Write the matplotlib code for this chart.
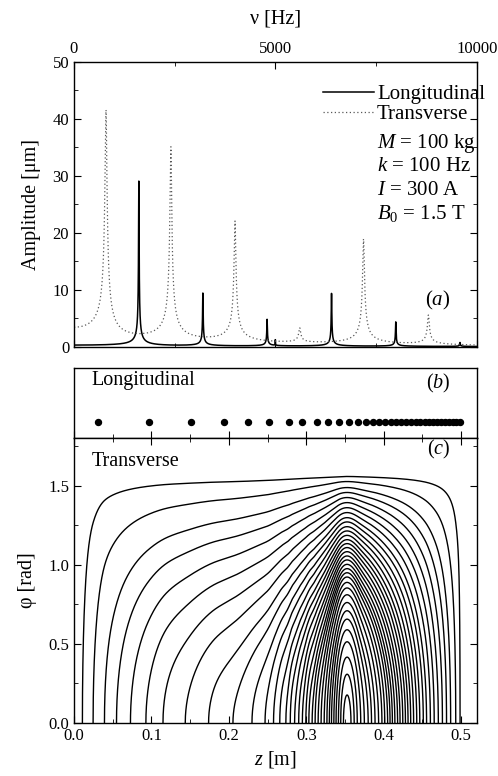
import matplotlib

matplotlib.use("Agg")

import matplotlib.pyplot as plt  # noqa: E402
import numpy as np  # noqa: E402
from matplotlib.ticker import MultipleLocator  # noqa: E402

# (a) resonance peaks: centre [Hz], height [um], width [Hz]
long_freq_hz = [1610, 3200, 4795, 5000, 6395, 7990, 9585]
long_amp_um = [29.0, 9.3, 4.7, 1.0, 9.3, 4.3, 0.7]
long_width_hz = [12, 12, 12, 3, 12, 12, 12]

trans_freq_hz = [795, 2405, 3998, 5605, 7190, 8800]
trans_amp_um = [40.5, 34.3, 21.4, 2.6, 18.6, 5.2]
trans_width_hz = [48, 42, 42, 42, 42, 42]

param_lines = ["$M$ = 100 kg", "$k$ = 100 Hz", "$I$ = 300 A", "$B_0$ = 1.5 T"]

# (b) longitudinal mode positions along z [m]
long_modes_z = [0.0306, 0.0973, 0.1512, 0.1938, 0.2252, 0.2523, 0.2774, 0.2950,
                0.3136, 0.3286, 0.3424, 0.3553, 0.3665, 0.3766, 0.3857, 0.3941,
                0.4018, 0.4089, 0.4160, 0.4225, 0.4289, 0.4354, 0.4412, 0.4470,
                0.4528, 0.4587, 0.4638, 0.4690, 0.4742, 0.4793, 0.4845, 0.4890,
                0.4935, 0.4978]

# (c) transverse curves, outermost first: arch top [rad], left / right foot [m]
arch_tops = [1.557, 1.525, 1.487, 1.456, 1.424, 1.392, 1.360, 1.329, 1.297,
             1.270, 1.240, 1.213, 1.185, 1.158, 1.133, 1.108, 1.082, 1.055,
             1.030, 1.002, 0.975, 0.949, 0.922, 0.888, 0.853, 0.810, 0.761,
             0.709, 0.656, 0.589, 0.513, 0.416, 0.308, 0.177]
left_feet = [0.011, 0.025, 0.040, 0.056, 0.0745, 0.095, 0.118, 0.148, 0.179,
             0.211, 0.234, 0.250, 0.260, 0.268, 0.276, 0.281, 0.287, 0.292,
             0.297, 0.301, 0.305, 0.310, 0.313, 0.317, 0.321, 0.325, 0.328,
             0.331, 0.334, 0.337, 0.340, 0.342, 0.344, 0.348]
right_feet = [0.4985, 0.4928, 0.4861, 0.4807, 0.4753, 0.4699, 0.4645, 0.4595,
              0.4545, 0.4502, 0.4456, 0.4416, 0.4375, 0.4337, 0.4302, 0.4268,
              0.4233, 0.4197, 0.4165, 0.4129, 0.4097, 0.4066, 0.4034, 0.3997,
              0.3960, 0.3916, 0.3870, 0.3824, 0.3780, 0.3729, 0.3679, 0.3645,
              0.3605, 0.3570]
arch_centre_z = 0.3525

plt.rcParams["font.family"] = "Liberation Serif"
plt.rcParams["mathtext.fontset"] = "custom"
plt.rcParams["mathtext.rm"] = "Liberation Serif"
plt.rcParams["mathtext.it"] = "Liberation Serif:italic"
plt.rcParams["axes.linewidth"] = 1.0
plt.rcParams["xtick.direction"] = "in"
plt.rcParams["ytick.direction"] = "in"
plt.rcParams["xtick.major.size"] = 5
plt.rcParams["ytick.major.size"] = 5
plt.rcParams["xtick.minor.size"] = 3
plt.rcParams["ytick.minor.size"] = 3
plt.rcParams["xtick.labelsize"] = 12
plt.rcParams["ytick.labelsize"] = 12


def spectrum(freq, centres, amps, widths):
    total = np.zeros_like(freq)
    for f0, a, w in zip(centres, amps, widths):
        total += a * f0 * w / np.sqrt((f0 ** 2 - freq ** 2) ** 2 + (freq * w) ** 2)
    return total


def pchip(xk, yk, x):
    """Monotone cubic (Fritsch-Carlson) through the knots."""
    xk, yk = np.asarray(xk, float), np.asarray(yk, float)
    x = np.clip(x, xk[0], xk[-1])
    h = np.diff(xk)
    d = np.diff(yk) / h
    m = np.zeros_like(yk)
    m[0], m[-1] = d[0], d[-1]
    for k in range(1, len(xk) - 1):
        if d[k - 1] * d[k] > 0:
            w1 = 2 * h[k] + h[k - 1]
            w2 = h[k] + 2 * h[k - 1]
            m[k] = (w1 + w2) / (w1 / d[k - 1] + w2 / d[k])
    i = np.clip(np.searchsorted(xk, x, side="right") - 1, 0, len(xk) - 2)
    t = (x - xk[i]) / h[i]
    h00 = (1 + 2 * t) * (1 - t) ** 2
    h10 = t * (1 - t) ** 2
    h01 = t ** 2 * (3 - 2 * t)
    h11 = t ** 2 * (t - 1)
    return h00 * yk[i] + h10 * h[i] * m[i] + h01 * yk[i + 1] + h11 * h[i] * m[i + 1]


def level_curve(z, u, c):
    """z, phi of the line arccos(c / u) between the two feet where u == c."""
    idx = np.flatnonzero(u >= c)
    i0, i1 = idx[0], idx[-1]
    zl = z[i0 - 1] + (c - u[i0 - 1]) * (z[i0] - z[i0 - 1]) / (u[i0] - u[i0 - 1])
    zr = z[i1] + (u[i1] - c) * (z[i1 + 1] - z[i1]) / (u[i1] - u[i1 + 1])
    zz = np.concatenate([[zl], z[i0:i1 + 1], [zr]])
    phi = np.concatenate([[0.0], np.arccos(np.clip(c / u[i0:i1 + 1], -1, 1)), [0.0]])
    return zz, phi


W, H = 498, 776
fig = plt.figure(figsize=(W / 100, H / 100), dpi=100)
left, width = 74 / W, 402.7 / W
ax_a = fig.add_axes([left, 1 - 346.7 / H, width, 284.7 / H])
ax_b = fig.add_axes([left, 1 - 438 / H, width, 70.5 / H])
ax_c = fig.add_axes([left, 1 - 723 / H, width, 285 / H], sharex=ax_b)

# ---- (a) amplitude spectra
freq = np.linspace(0, 10000, 40001)
ax_a.plot(freq, spectrum(freq, long_freq_hz, long_amp_um, long_width_hz),
          color="black", lw=1.1, label="Longitudinal")
ax_a.plot(freq, spectrum(freq, trans_freq_hz, trans_amp_um, trans_width_hz),
          color="0.35", lw=0.9, ls=(0, (1, 2)), label="Transverse")
ax_a.set_xlim(0, 10000)
ax_a.set_ylim(0, 50)
ax_a.xaxis.set_major_locator(MultipleLocator(5000))
ax_a.xaxis.set_minor_locator(MultipleLocator(2500))
ax_a.yaxis.set_major_locator(MultipleLocator(10))
ax_a.yaxis.set_minor_locator(MultipleLocator(5))
ax_a.tick_params(which="both", top=True, right=True, labeltop=True, labelbottom=False)
ax_a.xaxis.set_label_position("top")
ax_a.set_xlabel("ν [Hz]", fontsize=14.5, labelpad=13)
ax_a.set_ylabel("Amplitude [μm]", fontsize=14.5, labelpad=8)
ax_a.legend(loc="upper left", bbox_to_anchor=(0.618, 0.92), frameon=False,
            fontsize=15, handlelength=2.45, handletextpad=0.15,
            labelspacing=0.0, borderpad=0, borderaxespad=0)
for i, line in enumerate(param_lines):
    ax_a.text(0.752, 0.714 - i * 0.082, line, transform=ax_a.transAxes,
              fontsize=15, ha="left", va="center")
ax_a.text(8710, 8.2, "($a$)", fontsize=15, ha="left", va="center")

# ---- (b) longitudinal mode positions
ax_b.plot(long_modes_z, np.full(len(long_modes_z), 0.23), "o", color="black",
          ms=4.3, mec="black")
ax_b.set_ylim(0, 1)
ax_b.set_yticks([])
ax_b.tick_params(which="both", labelbottom=False, top=False)
ax_b.text(0.023, 0.82, "Longitudinal", fontsize=14.5, ha="left", va="center")
ax_b.text(0.486, 0.78, "($b$)", fontsize=14.5, ha="right", va="center")

# ---- (c) transverse curves
levels = np.cos(arch_tops)
knot_z = np.concatenate([[0.0], left_feet, [arch_centre_z], right_feet[::-1], [0.5]])
knot_u = np.concatenate([[0.0], levels, [1.0], levels[::-1], [0.0]])
z = np.union1d(np.linspace(0, 0.5, 10001), knot_z)
u_raw = pchip(knot_z, knot_u, z)
# round off the cusp at the arch centre so the arch tops come out rounded
sigma = 0.005
offsets = np.linspace(-3 * sigma, 3 * sigma, 121)
kernel = np.exp(-0.5 * (offsets / sigma) ** 2)
kernel /= kernel.sum()
u_smooth = sum(k * pchip(knot_z, knot_u, z + o) for k, o in zip(kernel, offsets))
blend = np.exp(-((z - arch_centre_z) / 0.05) ** 2)
u = u_raw + blend * (u_smooth - u_raw)
u /= u.max()
for c in levels:
    zz, phi = level_curve(z, u, c)
    ax_c.plot(zz, phi, color="black", lw=1.0)
ax_c.set_xlim(0, 0.52)
ax_c.set_ylim(0, 1.8)
ax_c.xaxis.set_major_locator(MultipleLocator(0.1))
ax_c.xaxis.set_minor_locator(MultipleLocator(0.05))
ax_c.yaxis.set_major_locator(MultipleLocator(0.5))
ax_c.yaxis.set_minor_locator(MultipleLocator(0.25))
ax_c.tick_params(which="both", top=True, right=True)
ax_c.xaxis.set_major_formatter(plt.FormatStrFormatter("%.1f"))
ax_c.yaxis.set_major_formatter(plt.FormatStrFormatter("%.1f"))
ax_c.set_xlabel("$z$ [m]", fontsize=14.5, labelpad=4)
ax_c.set_ylabel("φ [rad]", fontsize=14.5, labelpad=8)
ax_c.text(0.023, 1.654, "Transverse", fontsize=14.5, ha="left", va="center")
ax_c.text(0.486, 1.728, "($c$)", fontsize=14.5, ha="right", va="center")

fig.savefig("out.png", dpi=100)
plt.close(fig)
